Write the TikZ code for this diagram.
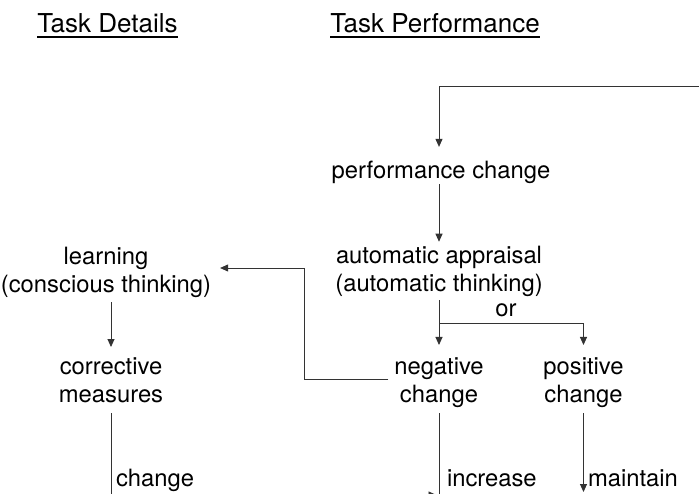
\documentclass[tikz,border=0pt]{standalone}
\usepackage{fontspec}
\setmainfont{TeX Gyre Heros}
\usetikzlibrary{arrows.meta}
\begin{document}
\begin{tikzpicture}[x=1pt,y=-1pt,
  txt/.style={inner sep=0pt, outer sep=0pt, align=center, font=\fontsize{23.8}{28}\selectfont, text=black},
  head/.style={inner sep=0pt, outer sep=0pt, font=\fontsize{26}{30}\selectfont, text=black},
  conn/.style={draw=black!80, line width=0.9pt},
  arr/.style={conn, -{Triangle[length=8pt,width=7pt]}},
  ul/.style={draw=black, line width=1.5pt}]
\useasboundingbox (0,0) rectangle (699,493);
\clip (0,0) rectangle (699,493);
% headings
\node[head, anchor=base] (td) at (107.5,32) {Task Details};
\node[head, anchor=base] (tp) at (435,32) {Task Performance};
\draw[ul] ([yshift=-5pt]td.base west) -- ([yshift=-5pt]td.base east);
\draw[ul] ([yshift=-5pt]tp.base west) -- ([yshift=-5pt]tp.base east);
% nodes
\node[txt, anchor=base] (perf) at (441,178) {performance change};
\node[txt] (auto) at (439,271) {automatic appraisal\\(automatic thinking)};
\node[txt] (learn) at (106,272) {learning\\(conscious thinking)};
\node[txt] (corr) at (111,380.6) {corrective\\measures};
\node[txt] (neg) at (439,383) {negative\\change};
\node[txt] (pos) at (583.5,383) {positive\\change};
\node[txt, anchor=base] (or) at (506,316) {or};
\node[txt, anchor=base west] (lchange) at (116,486) {change};
\node[txt, anchor=base west] (linc) at (447,486) {increase};
\node[txt, anchor=base west] (lmaint) at (588,486) {maintain};
% coordinates for free ends
\coordinate (tr) at (710,86);
\coordinate (tl) at (439,86);
\coordinate (cEnd) at (111,500);
\coordinate (nEnd) at (439,500);
\coordinate (pEnd) at (583.5,492);
\coordinate (nIn) at (390,495);
% connectors
\draw[arr, shorten >=13.7pt] (tr) -- (tl) -- (tl |- perf.north);
\draw[arr, shorten <=1pt, shorten >=4pt] (auto.north |- perf.south) -- (auto.north);
\draw[arr, shorten <=4pt, shorten >=13pt] (auto.south) -- (neg.north);
\draw[arr, shorten >=13pt] ([yshift=-27pt]auto.south) -| (pos.north);
\draw[arr] ([shift={(-6pt,4pt)}]neg.west) -| ([shift={(93pt,4pt)}]learn.east) -- ([shift={(9pt,4pt)}]learn.east);
\draw[arr, shorten <=5pt, shorten >=11pt] (corr.north |- learn.south) -- (corr.north);
\draw[conn, shorten <=10pt] (corr.south) -- (cEnd);
\draw[conn, shorten <=5pt] (neg.south) -- (nEnd);
\draw[arr, shorten <=5pt] (pos.south) -- (pEnd);
\draw[arr, shorten >=2.5pt] (nIn) -- (nIn -| neg.south);
\end{tikzpicture}
\end{document}
